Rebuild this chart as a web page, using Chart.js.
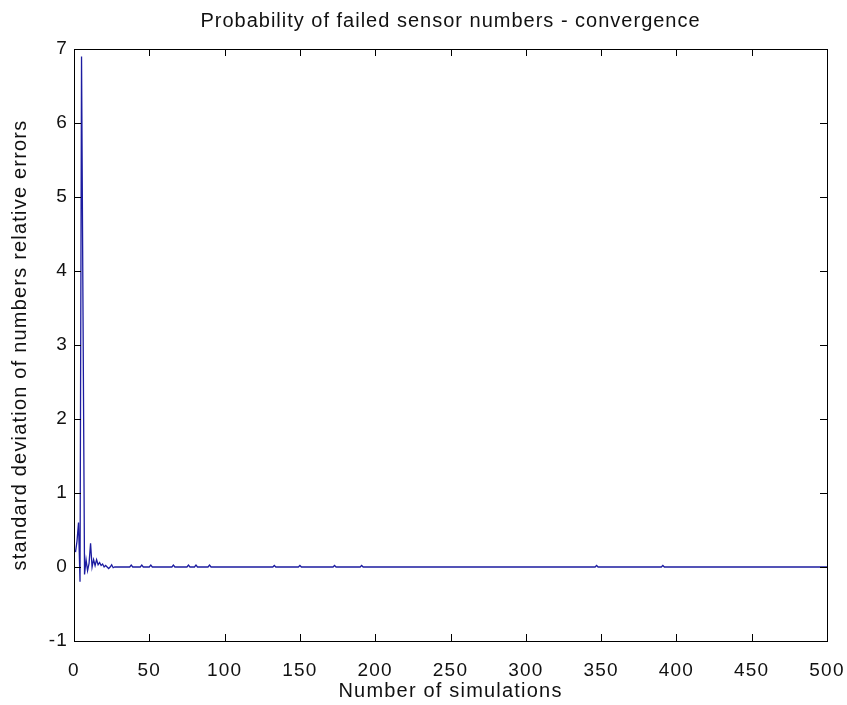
<!DOCTYPE html>
<html>
<head>
<meta charset="utf-8">
<script src="https://cdn.jsdelivr.net/npm/chart.js@4"></script>
<style>
html,body{margin:0;padding:0;background:#fff;}
#wrap{width:847px;height:705px;}
</style>
</head>
<body>
<div id="wrap"><canvas id="c" width="847" height="705"></canvas></div>
<script>
// ---- data ----
const titleText = "Probability of failed sensor numbers - convergence";
const xLabel = "Number of simulations";
const yLabel = "standard deviation of numbers relative errors";
const xTicks = [0, 50, 100, 150, 200, 250, 300, 350, 400, 450, 500];
const yTicks = [-1, 0, 1, 2, 3, 4, 5, 6, 7];
// simulation index
const simX = [1, 2, 3, 4, 5, 6, 7, 8, 9, 10, 11, 12, 13, 14, 15, 16, 17, 18, 19, 20, 21, 22, 23, 24, 25, 26, 27,
  37, 38, 39, 44, 45, 46, 50, 51, 52, 65, 66, 67, 75, 76, 77, 80, 81, 82, 89, 90, 91,
  132, 133, 134, 149, 150, 151, 172, 173, 174, 190, 191, 192, 346, 347, 348, 390, 391, 392, 500];
// standard deviation of relative errors
const stdErr = [0.2, 0.35, 0.6, -0.2, 6.9, 3.4, -0.1, 0.1, -0.05, 0.05, 0.32, 0.0, 0.1, 0.02, 0.1, 0.03, 0.06, 0.02, 0.04, 0.0, 0.02, 0.0, -0.02, 0.0, 0.03, -0.01, 0.0,
  0.0, 0.025, 0.0, 0.0, 0.025, 0.0, 0.0, 0.025, 0.0, 0.0, 0.025, 0.0, 0.0, 0.025, 0.0, 0.0, 0.025, 0.0, 0.0, 0.025, 0.0,
  0.0, 0.02, 0.0, 0.0, 0.02, 0.0, 0.0, 0.02, 0.0, 0.0, 0.02, 0.0, 0.0, 0.02, 0.0, 0.0, 0.02, 0.0, 0.0];

const points = simX.map((x, i) => ({x: x, y: stdErr[i]}));

const FONT = "'Liberation Sans', Arial, Helvetica, sans-serif";
const SPACING = '1.2px';

const spacingPlugin = {
  id: 'spacing',
  beforeUpdate(chart) { chart.ctx.letterSpacing = SPACING; },
  beforeLayout(chart) { chart.ctx.letterSpacing = SPACING; },
  beforeDraw(chart) { chart.ctx.letterSpacing = SPACING; }
};

// MATLAB-like box with inward ticks on all four sides, plus title centred on the axes
const boxPlugin = {
  id: 'matlabBox',
  afterDraw(chart) {
    const {ctx, chartArea: a, scales} = chart;
    ctx.save();
    ctx.strokeStyle = '#000';
    ctx.lineWidth = 1;
    ctx.strokeRect(Math.round(a.left) + 0.5, Math.round(a.top) + 0.5, Math.round(a.right - a.left), Math.round(a.bottom - a.top));
    const tl = 7;
    ctx.beginPath();
    xTicks.forEach(v => {
      const px = Math.round(scales.x.getPixelForValue(v)) + 0.5;
      ctx.moveTo(px, a.bottom); ctx.lineTo(px, a.bottom - tl);
      ctx.moveTo(px, a.top); ctx.lineTo(px, a.top + tl);
    });
    yTicks.forEach(v => {
      const py = Math.round(scales.y.getPixelForValue(v)) + 0.5;
      ctx.moveTo(a.left, py); ctx.lineTo(a.left + tl, py);
      ctx.moveTo(a.right, py); ctx.lineTo(a.right - tl, py);
    });
    ctx.stroke();
    ctx.fillStyle = '#111';
    ctx.letterSpacing = '1px';
    ctx.font = "20px " + FONT;
    ctx.textAlign = 'center';
    ctx.textBaseline = 'middle';
    ctx.fillText(titleText, (a.left + a.right) / 2, 21);
    ctx.restore();
  }
};

new Chart(document.getElementById('c'), {
  type: 'line',
  data: {
    datasets: [{
      data: points,
      borderColor: '#1c1ca0',
      borderWidth: 1.3,
      pointRadius: 0,
      tension: 0,
      fill: false
    }]
  },
  options: {
    responsive: false,
    animation: false,
    layout: {padding: {top: 49, right: 20, left: 0, bottom: 0}},
    plugins: {legend: {display: false}, tooltip: {enabled: false}, title: {display: false}},
    scales: {
      x: {
        type: 'linear', min: 0, max: 500,
        afterFit(s) { s.height = 64; s.paddingLeft = 0; s.paddingRight = 0; },
        afterBuildTicks(s) { s.ticks = xTicks.map(v => ({value: v})); },
        grid: {display: false, drawTicks: false},
        border: {display: false},
        ticks: {color: '#111', font: {size: 19, family: FONT}, padding: 18, maxRotation: 0},
        title: {display: true, text: xLabel, color: '#111', font: {size: 20, family: FONT}, padding: {top: 0, bottom: 2}}
      },
      y: {
        type: 'linear', min: -1, max: 7,
        afterFit(s) { s.width = 74; s.paddingTop = 0; s.paddingBottom = 0; },
        afterBuildTicks(s) { s.ticks = yTicks.map(v => ({value: v})); },
        grid: {display: false, drawTicks: false},
        border: {display: false},
        ticks: {color: '#111', font: {size: 19, family: FONT}, padding: 6},
        title: {display: true, text: yLabel, color: '#111', font: {size: 20, family: FONT}, padding: {top: 8, bottom: 4}}
      }
    }
  },
  plugins: [spacingPlugin, boxPlugin]
});
</script>
</body>
</html>
